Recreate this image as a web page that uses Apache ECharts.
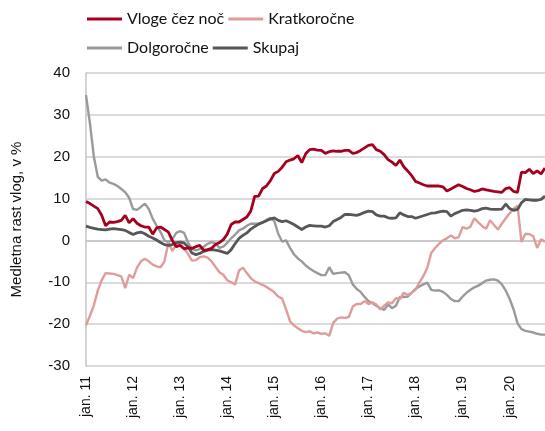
<!DOCTYPE html>
<html>
<head>
<meta charset="utf-8">
<script src="https://cdn.jsdelivr.net/npm/echarts@6/dist/echarts.min.js"></script>
<style>
  html, body { margin: 0; padding: 0; background: #fff; }
  #chart { width: 545px; height: 431px; }
</style>
</head>
<body>
<div id="chart"></div>
<script>
// meseci jan. 2011 - okt. 2020
const years = ['11', '12', '13', '14', '15', '16', '17', '18', '19', '20'];
const monthNames = ['jan.', 'feb.', 'mar.', 'apr.', 'maj', 'jun.', 'jul.', 'avg.', 'sep.', 'okt.', 'nov.', 'dec.'];
const nMonths = 118;

const vlogeCezNoc = [
  9.3, 8.8, 8.2, 7.6, 6.0, 3.5, 4.4, 4.3, 4.5, 4.8, 6.0, 4.2,
  5.2, 4.1, 3.5, 3.2, 3.2, 1.5, 3.0, 3.2, 2.6, 2.0, 0.0, -1.5,
  -1.2, -2.0, -1.8, -1.9, -1.5, -1.2, -2.4, -2.2, -1.9, -1.0, -0.5, 0.2,
  1.5, 3.8, 4.4, 4.4, 5.0, 5.6, 7.0, 10.5, 10.6, 12.4, 13.0, 14.3,
  16.0, 16.5, 17.5, 18.8, 19.2, 19.5, 20.3, 18.6, 20.7, 21.7, 21.8, 21.6,
  21.5, 20.8, 21.2, 21.4, 21.3, 21.3, 21.5, 21.5, 20.8, 21.0, 21.5, 22.1,
  22.7, 22.9, 21.7, 21.3, 20.5, 19.3, 18.7, 17.9, 19.2, 17.6, 16.6, 15.5,
  14.1, 13.7, 13.3, 13.0, 13.0, 13.0, 13.0, 12.8, 11.8, 12.3, 12.8, 13.3,
  12.9, 12.4, 12.1, 11.7, 11.9, 12.3, 12.1, 11.9, 11.7, 11.6, 11.5, 12.4,
  12.6, 11.7, 11.5, 16.3, 16.2, 17.0, 16.0, 16.6, 15.9, 17.3
];

const kratkorocne = [
  -20.3, -18.0, -15.5, -12.0, -9.5, -7.8, -7.9, -8.0, -8.3, -8.6, -11.4, -8.2,
  -9.0, -6.5, -5.0, -4.4, -5.0, -5.8, -6.2, -6.4, -5.0, -0.5, -2.5, -1.0,
  -0.5, -2.0, -3.2, -4.8, -4.7, -4.0, -3.8, -4.1, -5.0, -6.3, -7.6, -8.2,
  -9.5, -10.0, -10.5, -7.2, -6.5, -7.8, -9.0, -9.8, -10.2, -10.6, -11.1, -11.7,
  -12.4, -13.4, -13.9, -16.5, -19.3, -20.3, -21.0, -21.6, -21.9, -21.7, -22.2, -22.0,
  -22.3, -22.2, -22.8, -19.7, -18.7, -18.4, -18.5, -18.3, -15.8, -15.2, -15.2, -14.5,
  -15.2, -14.8, -15.3, -16.5, -15.6, -14.8, -15.0, -13.8, -14.0, -12.5, -13.0, -12.5,
  -11.8, -10.0, -8.5, -6.5, -3.0, -1.8, -0.8, 0.0, 0.5, 1.2, 0.5, 0.8,
  3.2, 2.8, 3.3, 5.3, 4.3, 3.4, 2.8, 4.8, 3.7, 2.6, 4.0, 5.3,
  6.5, 7.5, 8.3, -0.4, 1.6, 1.5, 1.0, -1.8, 0.3, -0.3
];

const dolgorocne = [
  34.7, 28.0, 20.0, 15.2, 14.3, 14.6, 13.8, 13.5, 13.0, 12.3, 11.5, 10.2,
  7.5, 7.3, 8.0, 8.8, 7.5, 5.2, 3.5, 2.0, 0.0, -0.4, 0.3, 1.8,
  2.2, 1.8, -0.5, -2.0, -2.4, -2.1, -1.5, -0.8, -0.4, -0.7, -1.8, -1.5,
  -0.6, 0.5, 1.4, 2.4, 2.8, 3.5, 4.0, 4.0, 4.0, 4.3, 4.9, 5.4,
  4.6, 1.6, -0.3, 0.0, -1.8, -3.3, -4.3, -5.0, -6.0, -6.7, -7.3, -7.8,
  -8.3, -8.3, -6.4, -8.0, -7.8, -7.7, -7.6, -8.3, -10.5, -11.6, -12.3, -13.5,
  -14.5, -15.0, -15.6, -16.2, -16.6, -15.3, -16.2, -15.6, -13.5, -13.5, -13.4, -12.5,
  -11.6, -11.0, -10.5, -10.1, -11.8, -12.0, -11.9, -12.3, -13.0, -14.0, -14.5, -14.5,
  -13.4, -12.5, -11.8, -11.2, -10.8, -10.2, -9.6, -9.4, -9.3, -9.6, -10.5, -12.0,
  -14.0, -16.5, -19.8, -21.2, -21.6, -21.8, -22.0, -22.3, -22.5, -22.5
];

const skupaj = [
  3.4, 3.1, 2.9, 2.7, 2.6, 2.5, 2.7, 2.8, 2.7, 2.6, 2.4, 1.9,
  1.4, 1.8, 2.0, 1.6, 1.0, 0.6, 0.1, -0.5, -1.0, -1.2, -1.0, -0.5,
  -0.4, -0.6, -1.5, -3.0, -3.4, -3.1, -2.6, -2.3, -2.2, -2.3, -2.5, -2.8,
  -3.1, -2.2, -0.8, 0.5, 1.2, 1.8, 2.7, 3.3, 3.9, 4.3, 4.7, 5.1,
  5.4, 4.8, 4.5, 4.7, 4.3, 3.8, 3.2, 2.6, 3.2, 3.6, 3.5, 3.4,
  3.4, 3.2, 3.5, 4.5, 5.0, 5.5, 6.2, 6.2, 6.1, 6.0, 6.3, 6.7,
  7.0, 6.9, 6.1, 5.8, 5.8, 5.4, 5.3, 5.4, 6.6, 6.1, 5.7, 5.7,
  5.3, 5.6, 5.9, 6.2, 6.5, 6.6, 6.8, 7.0, 6.9, 5.8, 6.4, 6.8,
  7.2, 7.3, 7.2, 7.0, 7.2, 7.6, 7.7, 7.5, 7.4, 7.4, 7.5, 8.7,
  7.6, 7.2, 7.4, 9.0, 9.8, 9.7, 9.6, 9.6, 9.8, 10.6
];

const seriesNames = ['Vloge čez noč', 'Kratkoročne', 'Dolgoročne', 'Skupaj'];
const seriesColors = ['#a6001f', '#e09c9b', '#9a9a9a', '#575757'];
const yTicks = { min: -30, max: 40, interval: 10 };

let categories = [];
for (let i = 0; i < nMonths; i++) {
  categories.push(monthNames[i % 12] + ' ' + years[Math.floor(i / 12)]);
}

const axisFont = 'Liberation Sans';
const legendFont = 'Lato';

let chart = echarts.init(document.getElementById('chart'), null, { renderer: 'canvas' });

let legendBase = {
  left: 82,
  itemWidth: 35,
  itemHeight: 3,
  itemGap: 4,
  icon: 'rect',
  textStyle: {
    fontFamily: legendFont,
    fontSize: 16,
    color: '#111',
    width: 103,
  },
};

let option = {
  backgroundColor: '#fff',
  animation: false,
  legend: [
    Object.assign({}, legendBase, { top: 6, data: [seriesNames[0], seriesNames[1]] }),
    Object.assign({}, legendBase, { top: 35, data: [seriesNames[2], seriesNames[3]] }),
  ],
  grid: {
    left: 86,
    right: 0,
    top: 73,
    bottom: 65,
    containLabel: false,
  },
  xAxis: {
    type: 'category',
    data: categories,
    boundaryGap: false,
    axisLine: { lineStyle: { color: '#c4c4c4', width: 1.5 } },
    axisTick: { show: false },
    axisLabel: {
      interval: 11,
      rotate: 90,
      margin: 10,
      color: '#111',
      fontFamily: axisFont,
      fontSize: 14,
    },
    splitLine: { show: false },
  },
  yAxis: {
    type: 'value',
    min: yTicks.min,
    max: yTicks.max,
    interval: yTicks.interval,
    name: 'Medletna rast vlog, v %',
    nameLocation: 'middle',
    nameGap: 62,
    nameTextStyle: {
      fontFamily: axisFont,
      fontSize: 15,
      color: '#111',
    },
    axisLine: { show: true, lineStyle: { color: '#c4c4c4', width: 1.5 } },
    axisTick: { show: false },
    axisLabel: {
      margin: 16,
      color: '#111',
      fontFamily: axisFont,
      fontSize: 15,
    },
    splitLine: { lineStyle: { color: '#cfcfcf', width: 1.5 } },
  },
  series: [
    { name: seriesNames[0], data: vlogeCezNoc, width: 2.8 },
    { name: seriesNames[1], data: kratkorocne, width: 2.4 },
    { name: seriesNames[2], data: dolgorocne, width: 2.4 },
    { name: seriesNames[3], data: skupaj, width: 2.8 },
  ].map((s, i) => ({
    name: s.name,
    type: 'line',
    data: s.data,
    showSymbol: false,
    symbol: 'none',
    color: seriesColors[i],
    lineStyle: { color: seriesColors[i], width: s.width },
    z: [4, 2, 1, 3][i],
  })),
};

chart.setOption(option);
</script>
</body>
</html>
